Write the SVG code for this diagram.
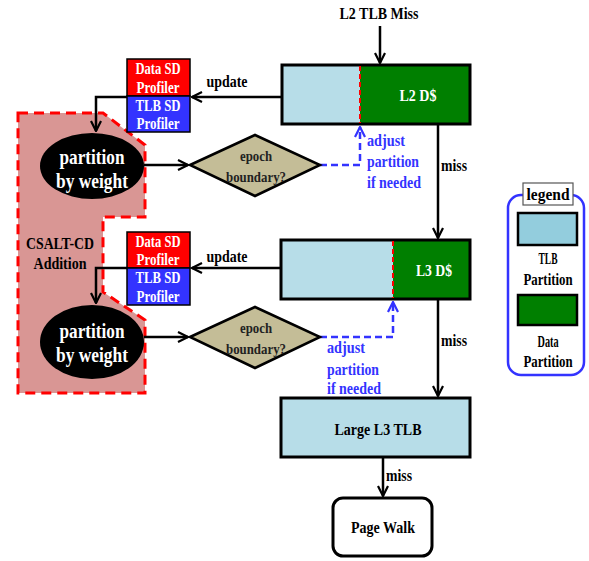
<svg xmlns="http://www.w3.org/2000/svg" width="589" height="561" viewBox="0 0 589 561">
<defs>
<marker id="ah" viewBox="0 0 12 12" refX="11" refY="6" markerWidth="12" markerHeight="12" markerUnits="userSpaceOnUse" orient="auto">
<path d="M1,1 L11,6 L1,11" fill="none" stroke="#000" stroke-width="2.2"/>
</marker>
<marker id="ahb" viewBox="0 0 12 12" refX="11" refY="6" markerWidth="12" markerHeight="12" markerUnits="userSpaceOnUse" orient="auto">
<path d="M1,1 L11,6 L1,11" fill="none" stroke="#3333ff" stroke-width="2.2"/>
</marker>
</defs>
<style>
text{font-family:"Liberation Serif","Times New Roman",serif;font-weight:bold;text-anchor:middle}
.s{text-anchor:start}
.box{stroke:#000;stroke-width:3}
.lb{fill:#b7dde8}
.gr{fill:#007f00}
.w{fill:#fff}
.k{fill:#000}
.bl{fill:#3333ff}
.con{fill:none;stroke:#000;stroke-width:2.5}
.dash{fill:none;stroke:#3333ff;stroke-width:2.5;stroke-dasharray:7,4}
.prof{stroke:#000;stroke-width:1.5}
.dia{fill:#c4bd97;stroke:#000;stroke-width:2.5}
</style>
<g id="csalt">
<polygon points="18,113 103,113 145,145 145,217 103,217 103,292 145,320 145,393 18,393" fill="#d99694" stroke="#ff0000" stroke-width="3" stroke-dasharray="10,6"/>
<text x="60" y="249" font-size="16" class="k" textLength="68" lengthAdjust="spacingAndGlyphs">CSALT-CD</text>
<text x="60" y="269" font-size="16" class="k" textLength="53" lengthAdjust="spacingAndGlyphs">Addition</text>
</g>
<g id="connectors">
<line x1="380" y1="26" x2="380" y2="63" class="con" marker-end="url(#ah)"/>
<line x1="282" y1="97" x2="192" y2="97" class="con" marker-end="url(#ah)"/>
<polyline points="127,97 96,97 96,131" class="con" marker-end="url(#ah)"/>
<line x1="144" y1="165" x2="188" y2="165" class="con" marker-end="url(#ah)"/>
<polyline points="320,165 360,165 360,127" class="dash" marker-end="url(#ahb)"/>
<line x1="438" y1="124" x2="438" y2="238" class="con" marker-end="url(#ah)"/>
<line x1="281" y1="268" x2="192" y2="268" class="con" marker-end="url(#ah)"/>
<polyline points="127,268 96,268 96,303" class="con" marker-end="url(#ah)"/>
<line x1="144" y1="337" x2="188" y2="337" class="con" marker-end="url(#ah)"/>
<polyline points="320,337 393,337 393,302" class="dash" marker-end="url(#ahb)"/>
<line x1="438" y1="299" x2="438" y2="396" class="con" marker-end="url(#ah)"/>
<line x1="383" y1="457" x2="383" y2="496" class="con" marker-end="url(#ah)"/>
<text x="379" y="19" font-size="16.5" class="k" textLength="79" lengthAdjust="spacingAndGlyphs">L2 TLB Miss</text>
<text x="227" y="87" font-size="16.5" class="k" textLength="41" lengthAdjust="spacingAndGlyphs">update</text>
<text x="227" y="262" font-size="16.5" class="k" textLength="41" lengthAdjust="spacingAndGlyphs">update</text>
<text x="441" y="171" font-size="16.5" class="k s" textLength="26" lengthAdjust="spacingAndGlyphs">miss</text>
<text x="441" y="346" font-size="16.5" class="k s" textLength="26" lengthAdjust="spacingAndGlyphs">miss</text>
<text x="386" y="481" font-size="16.5" class="k s" textLength="26" lengthAdjust="spacingAndGlyphs">miss</text>
<text x="367" y="146" font-size="16.5" class="bl s" textLength="38" lengthAdjust="spacingAndGlyphs">adjust</text>
<text x="367" y="167" font-size="16.5" class="bl s" textLength="52" lengthAdjust="spacingAndGlyphs">partition</text>
<text x="367" y="188" font-size="16.5" class="bl s" textLength="54" lengthAdjust="spacingAndGlyphs">if needed</text>
<text x="327" y="353" font-size="16.5" class="bl s" textLength="38" lengthAdjust="spacingAndGlyphs">adjust</text>
<text x="327" y="375" font-size="16.5" class="bl s" textLength="52" lengthAdjust="spacingAndGlyphs">partition</text>
<text x="327" y="394" font-size="16.5" class="bl s" textLength="54" lengthAdjust="spacingAndGlyphs">if needed</text>
</g>
<g id="l2d">
<rect x="282" y="65" width="78" height="59" class="lb"/>
<rect x="360" y="65" width="110" height="59" class="gr"/>
<rect x="282" y="65" width="188" height="59" fill="none" class="box"/>
<line x1="360" y1="66" x2="360" y2="123" stroke="#ff0000" stroke-width="2" stroke-dasharray="5,3"/>
<text x="418" y="101" font-size="17" class="w" textLength="37" lengthAdjust="spacingAndGlyphs">L2 D$</text>
</g>
<g id="l3d">
<rect x="281" y="240" width="112" height="59" class="lb"/>
<rect x="393" y="240" width="77" height="59" class="gr"/>
<rect x="281" y="240" width="189" height="59" fill="none" class="box"/>
<line x1="393" y1="241" x2="393" y2="298" stroke="#ff0000" stroke-width="2" stroke-dasharray="5,3"/>
<text x="434" y="276" font-size="17" class="w" textLength="36" lengthAdjust="spacingAndGlyphs">L3 D$</text>
</g>
<g id="l3tlb">
<rect x="281" y="398" width="189" height="59" class="lb box"/>
<text x="378" y="435" font-size="17.5" class="k" textLength="87" lengthAdjust="spacingAndGlyphs">Large L3 TLB</text>
</g>
<g id="pagewalk">
<rect x="333" y="498" width="99" height="58" rx="10" fill="#fff" class="box" stroke-width="2.5"/>
<text x="383" y="533" font-size="17.5" class="k" textLength="64" lengthAdjust="spacingAndGlyphs">Page Walk</text>
</g>
<g id="prof1">
<rect x="127" y="59" width="63" height="37" fill="#ff0000" class="prof"/>
<rect x="127" y="96" width="63" height="36" fill="#3333ff" class="prof"/>
<text x="158" y="74" font-size="17" class="w" textLength="45" lengthAdjust="spacingAndGlyphs">Data SD</text>
<text x="158" y="93" font-size="17" class="w" textLength="43" lengthAdjust="spacingAndGlyphs">Profiler</text>
<text x="158" y="111" font-size="17" class="w" textLength="45" lengthAdjust="spacingAndGlyphs">TLB SD</text>
<text x="158" y="129" font-size="17" class="w" textLength="43" lengthAdjust="spacingAndGlyphs">Profiler</text>
</g>
<g id="prof2">
<rect x="127" y="232" width="63" height="36" fill="#ff0000" class="prof"/>
<rect x="127" y="268" width="63" height="37" fill="#3333ff" class="prof"/>
<text x="158" y="247" font-size="17" class="w" textLength="45" lengthAdjust="spacingAndGlyphs">Data SD</text>
<text x="158" y="265" font-size="17" class="w" textLength="43" lengthAdjust="spacingAndGlyphs">Profiler</text>
<text x="158" y="283" font-size="17" class="w" textLength="45" lengthAdjust="spacingAndGlyphs">TLB SD</text>
<text x="158" y="302" font-size="17" class="w" textLength="43" lengthAdjust="spacingAndGlyphs">Profiler</text>
</g>
<g id="part1">
<ellipse cx="92" cy="166" rx="52" ry="33" fill="#000"/>
<text x="92" y="164" font-size="21" class="w" textLength="65" lengthAdjust="spacingAndGlyphs">partition</text>
<text x="92" y="188" font-size="21" class="w" textLength="72" lengthAdjust="spacingAndGlyphs">by weight</text>
</g>
<g id="part2">
<ellipse cx="92" cy="342" rx="52" ry="37" fill="#000"/>
<text x="92" y="338" font-size="21" class="w" textLength="65" lengthAdjust="spacingAndGlyphs">partition</text>
<text x="92" y="362" font-size="21" class="w" textLength="72" lengthAdjust="spacingAndGlyphs">by weight</text>
</g>
<g id="epoch1">
<polygon points="190,165 255,135 320,165 255,196" class="dia"/>
<text x="256" y="161" font-size="15.5" fill="#222" textLength="32" lengthAdjust="spacingAndGlyphs">epoch</text>
<text x="256" y="182" font-size="15.5" fill="#222" textLength="60" lengthAdjust="spacingAndGlyphs">boundary?</text>
</g>
<g id="epoch2">
<polygon points="190,337 255,307 320,337 255,368" class="dia"/>
<text x="256" y="333" font-size="15.5" fill="#222" textLength="32" lengthAdjust="spacingAndGlyphs">epoch</text>
<text x="256" y="354" font-size="15.5" fill="#222" textLength="60" lengthAdjust="spacingAndGlyphs">boundary?</text>
</g>
<g id="legend">
<rect x="508" y="195" width="76" height="180" rx="13" fill="#fff" stroke="#3333ff" stroke-width="2.5"/>
<rect x="523" y="183" width="50" height="22" fill="#fff" stroke="#555" stroke-width="1.2"/>
<text x="548" y="200" font-size="16" class="k" textLength="43" lengthAdjust="spacingAndGlyphs">legend</text>
<rect x="518" y="213" width="59" height="32" fill="#93cddd" stroke="#000" stroke-width="2.5"/>
<text x="548" y="264" font-size="16" class="k" textLength="19" lengthAdjust="spacingAndGlyphs">TLB</text>
<text x="548" y="285" font-size="16" class="k" textLength="49" lengthAdjust="spacingAndGlyphs">Partition</text>
<rect x="518" y="295" width="59" height="30" fill="#007f00" stroke="#000" stroke-width="2.5"/>
<text x="548" y="347" font-size="16" class="k" textLength="21" lengthAdjust="spacingAndGlyphs">Data</text>
<text x="548" y="367" font-size="16" class="k" textLength="49" lengthAdjust="spacingAndGlyphs">Partition</text>
</g>
</svg>
